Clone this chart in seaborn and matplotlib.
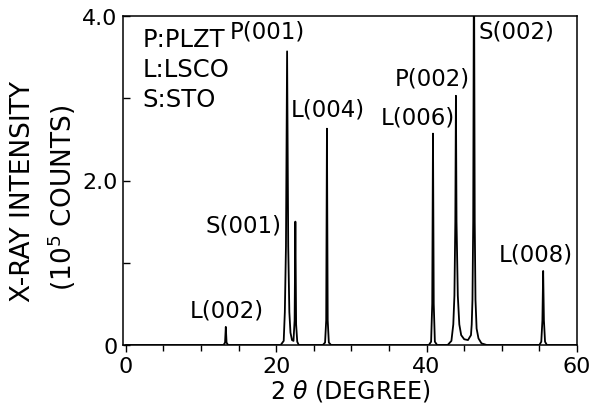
import matplotlib
matplotlib.use('Agg')
import matplotlib.pyplot as plt
from matplotlib.ticker import FixedLocator, MultipleLocator
import seaborn as sns

# XRD trace (2 theta in degrees, intensity in 1e5 counts)
two_theta = [0.0, 13.0, 13.2, 13.3, 13.4, 13.6,
             20.6, 21.0, 21.15, 21.3, 21.45, 21.6, 21.75, 21.9, 22.1, 22.3,
             22.45, 22.55, 22.65, 22.8, 23.0,
             26.2, 26.5, 26.65, 26.75, 26.85, 27.0, 27.3,
             40.3, 40.6, 40.75, 40.85, 40.95, 41.1, 41.4,
             42.8, 43.3, 43.55, 43.7, 43.82, 43.9, 43.98, 44.15, 44.35, 44.6,
             45.0, 45.5, 45.9, 46.0, 46.1, 46.2, 46.3, 46.4, 46.5, 46.65,
             46.9, 47.3, 48.0,
             55.0, 55.25, 55.4, 55.5, 55.6, 55.75, 56.0,
             60.0]
counts = [0.0, 0.0, 0.03, 0.22, 0.03, 0.0,
          0.0, 0.05, 0.4, 1.2, 3.57, 1.2, 0.4, 0.15, 0.06, 0.05,
          0.3, 1.50, 0.25, 0.04, 0.0,
          0.0, 0.03, 0.3, 2.63, 0.3, 0.03, 0.0,
          0.0, 0.04, 0.5, 2.57, 0.5, 0.04, 0.0,
          0.0, 0.05, 0.25, 0.6, 1.5, 3.03, 1.5, 0.6, 0.25, 0.12,
          0.07, 0.06, 0.12, 0.25, 0.55, 1.5, 5.0, 1.5, 0.55, 0.2,
          0.08, 0.02, 0.0,
          0.0, 0.04, 0.3, 0.9, 0.3, 0.04, 0.0,
          0.0]

peak_labels = ['L(002)', 'P(001)', 'S(001)', 'L(004)', 'L(006)', 'P(002)', 'S(002)', 'L(008)']
label_x = [13.4, 18.8, 20.7, 26.9, 38.9, 40.8, 51.9, 54.5]
label_y = [0.43, 3.82, 1.46, 2.87, 2.77, 3.25, 3.82, 1.11]
label_ha = ['center', 'center', 'right', 'center', 'center', 'center', 'center', 'center']

key_lines = ['P:PLZT', 'L:LSCO', 'S:STO']

sns.set_theme(style='ticks')
plt.rcParams['font.family'] = ['DejaVu Sans']
plt.rcParams['mathtext.fontset'] = 'dejavusans'
plt.rcParams['text.color'] = 'black'
plt.rcParams['axes.labelcolor'] = 'black'
plt.rcParams['xtick.color'] = 'black'
plt.rcParams['ytick.color'] = 'black'

W, H = 592, 406
fig = plt.figure(figsize=(W / 100, H / 100), dpi=100)
ax = fig.add_axes([123 / W, 1 - 346 / H, 454 / W, 329 / H])

sns.lineplot(x=two_theta, y=counts, estimator=None, sort=False,
             color='black', linewidth=1.3, ax=ax)

ax.set_xlim(-0.37, 60)
ax.set_ylim(0, 4.0)

ax.xaxis.set_major_locator(FixedLocator([0, 20, 40, 60]))
ax.xaxis.set_minor_locator(MultipleLocator(5))
ax.set_xticklabels(['0', '20', '40', '60'])
ax.yaxis.set_major_locator(FixedLocator([0, 2, 4]))
ax.yaxis.set_minor_locator(MultipleLocator(1))
ax.set_yticklabels(['0', '2.0', '4.0'])

ax.tick_params(axis='x', which='both', direction='out', labelsize=16, pad=3,
               colors='black', labelcolor='black')
ax.tick_params(axis='x', which='major', length=5, width=1)
ax.tick_params(axis='x', which='minor', length=4, width=1)
ax.tick_params(axis='y', which='both', direction='in', labelsize=16, pad=4,
               colors='black', labelcolor='black')
ax.tick_params(axis='y', which='major', length=5, width=1)
ax.tick_params(axis='y', which='minor', length=5, width=1)

for side in ['left', 'right', 'top', 'bottom']:
    ax.spines[side].set_visible(True)
    ax.spines[side].set_color('black')
    ax.spines[side].set_linewidth(1.1)

ax.set_xlabel(r'2 $\theta$ (DEGREE)', fontsize=17, labelpad=1, color='black')

# two-line y label, placed like the original
fig.text(23 / W, 1 - 192 / H, 'X-RAY INTENSITY', fontsize=19, rotation=90,
         ha='center', va='center', color='black')
fig.text(62 / W, 1 - 198 / H, '(10$^5$ COUNTS)', fontsize=19, rotation=90,
         ha='center', va='center', color='black')

for txt, x, y, ha in zip(peak_labels, label_x, label_y, label_ha):
    ax.text(x, y, txt, fontsize=16.5, ha=ha, va='center', color='black')

for i, txt in enumerate(key_lines):
    ax.text(2.2, 3.72 - i * 0.365, txt, fontsize=17.5, ha='left', va='center', color='black')

fig.savefig('out.png', dpi=100)
